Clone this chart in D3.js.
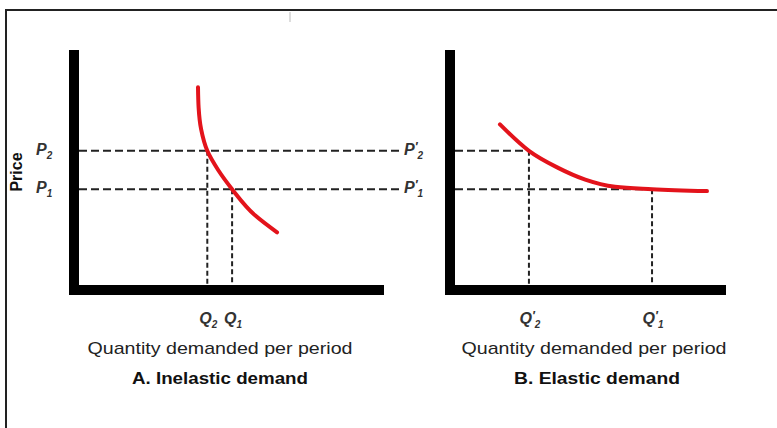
<!DOCTYPE html>
<html>
<head>
<meta charset="utf-8">
<script src="https://cdn.jsdelivr.net/npm/d3@7"></script>
<style>
  html, body { margin: 0; padding: 0; background: #fff; }
  svg { display: block; }
  text { font-family: "Liberation Sans", Arial, sans-serif; }
</style>
</head>
<body>
<svg id="chart" width="777" height="428"></svg>
<script>
// ---------- data ----------
const panelTitles = ["A. Inelastic demand", "B. Elastic demand"];
const xAxisLabel = "Quantity demanded per period";
const yAxisLabel = "Price";

// Panel A (inelastic): price levels and quantities
const inelasticPrices = [5.8, 4.2];          // P2, P1
const inelasticQuantities = [4.3, 5.1];      // Q2, Q1
const inelasticCurveQ = [4.0, 4.02, 4.1, 4.3, 4.65, 5.1, 5.85, 6.55];
const inelasticCurveP = [8.45, 7.6, 6.7, 5.8, 5.0, 4.2, 3.1, 2.4];

// Panel B (elastic)
const elasticPrices = [5.8, 4.2];            // P'2, P'1
const elasticQuantities = [2.86, 7.32];      // Q'2, Q'1
const elasticCurveQ = [1.81, 2.86, 3.9, 4.9, 5.98, 7.32, 9.31];
const elasticCurveP = [6.9, 5.8, 5.1, 4.6, 4.3, 4.2, 4.12];

const priceTickLabels = ["P", "P"];          // with subscripts 2, 1
const priceSubs = ["2", "1"];
const qSubs = ["2", "1"];

// ---------- drawing ----------
const svg = d3.select("#chart");
const red = "#e3131b";

// frame
svg.append("line").attr("x1", 5).attr("x2", 777).attr("y1", 10).attr("y2", 10)
  .attr("stroke", "#222").attr("stroke-width", 2);
svg.append("line").attr("x1", 6).attr("x2", 6).attr("y1", 10).attr("y2", 428)
  .attr("stroke", "#222").attr("stroke-width", 2);
svg.append("line").attr("x1", 290).attr("x2", 290).attr("y1", 12).attr("y2", 22)
  .attr("stroke", "#bbb").attr("stroke-width", 1);

const y = d3.scaleLinear().domain([0, 10]).range([290, 50]);
const xA = d3.scaleLinear().domain([0, 10]).range([74, 384]);
const xB = d3.scaleLinear().domain([0, 10]).range([450, 726]);

function axes(x) {
  const x0 = x(0);
  svg.append("line").attr("x1", x0).attr("x2", x0).attr("y1", y(10)).attr("y2", y(0) + 5)
    .attr("stroke", "#000").attr("stroke-width", 10);
  svg.append("line").attr("x1", x0 - 5).attr("x2", x(10)).attr("y1", y(0)).attr("y2", y(0))
    .attr("stroke", "#000").attr("stroke-width", 10);
}
axes(xA);
axes(xB);

const hDash = "8,4", vDash = "5,3";

// Panel A guide lines
inelasticPrices.forEach((p, i) => {
  svg.append("line").attr("x1", xA(0) + 5).attr("x2", 400)
    .attr("y1", y(p)).attr("y2", y(p))
    .attr("stroke", "#222").attr("stroke-width", 2).attr("stroke-dasharray", hDash);
  svg.append("line").attr("x1", xA(inelasticQuantities[i])).attr("x2", xA(inelasticQuantities[i]))
    .attr("y1", y(p)).attr("y2", y(0) - 5)
    .attr("stroke", "#222").attr("stroke-width", 2).attr("stroke-dasharray", vDash);
});
// Panel B guide lines
elasticPrices.forEach((p, i) => {
  svg.append("line").attr("x1", xB(0) + 5).attr("x2", xB(elasticQuantities[i]))
    .attr("y1", y(p)).attr("y2", y(p))
    .attr("stroke", "#222").attr("stroke-width", 2).attr("stroke-dasharray", hDash);
  svg.append("line").attr("x1", xB(elasticQuantities[i])).attr("x2", xB(elasticQuantities[i]))
    .attr("y1", y(p)).attr("y2", y(0) - 5)
    .attr("stroke", "#222").attr("stroke-width", 2).attr("stroke-dasharray", vDash);
});

// curves
const lineA = d3.line().x(d => xA(d[0])).y(d => y(d[1])).curve(d3.curveMonotoneY);
const lineB = d3.line().x(d => xB(d[0])).y(d => y(d[1])).curve(d3.curveMonotoneX);
svg.append("path").datum(d3.zip(inelasticCurveQ, inelasticCurveP)).attr("d", lineA)
  .attr("fill", "none").attr("stroke", red).attr("stroke-width", 4).attr("stroke-linecap", "round");
svg.append("path").datum(d3.zip(elasticCurveQ, elasticCurveP)).attr("d", lineB)
  .attr("fill", "none").attr("stroke", red).attr("stroke-width", 4).attr("stroke-linecap", "round");

// labels helper
function symLabel(xp, yp, letter, prime, sub, anchor) {
  const t = svg.append("text").attr("x", xp).attr("y", yp).attr("text-anchor", anchor || "start")
    .attr("font-size", 16).attr("font-style", "italic").attr("font-weight", "bold").attr("fill", "#333")
    .attr("dominant-baseline", "middle");
  t.append("tspan").text(letter);
  if (prime) t.append("tspan").attr("font-size", 12).attr("dy", -3).text("′");
  t.append("tspan").attr("font-size", 10).attr("dy", prime ? 8 : 5).text(sub);
  return t;
}

// Panel A price labels (left of axis)
inelasticPrices.forEach((p, i) => symLabel(36, y(p), priceTickLabels[i], false, priceSubs[i]));
// Panel B price labels (between panels)
elasticPrices.forEach((p, i) => symLabel(404, y(p), priceTickLabels[i], true, priceSubs[i]));

// Quantity labels
inelasticQuantities.forEach((q, i) => symLabel(xA(q) + 1, 320, "Q", false, qSubs[i], "middle"));
elasticQuantities.forEach((q, i) => symLabel(xB(q) + 1, 320, "Q", true, qSubs[i], "middle"));

// axis titles
[220, 594].forEach(cx => {
  svg.append("text").attr("x", cx).attr("y", 354).attr("text-anchor", "middle")
    .attr("font-size", 17).attr("fill", "#222")
    .attr("textLength", 265).attr("lengthAdjust", "spacingAndGlyphs")
    .text(xAxisLabel);
});
svg.append("text").attr("x", 220).attr("y", 384).attr("text-anchor", "middle")
  .attr("font-size", 17).attr("font-weight", "bold").attr("fill", "#111")
  .attr("textLength", 176).attr("lengthAdjust", "spacingAndGlyphs").text(panelTitles[0]);
svg.append("text").attr("x", 597).attr("y", 384).attr("text-anchor", "middle")
  .attr("font-size", 17).attr("font-weight", "bold").attr("fill", "#111")
  .attr("textLength", 166).attr("lengthAdjust", "spacingAndGlyphs").text(panelTitles[1]);

svg.append("text").attr("transform", "translate(22,172) rotate(-90)")
  .attr("text-anchor", "middle").attr("font-size", 16).attr("font-weight", "bold").attr("fill", "#111")
  .text(yAxisLabel);
</script>
</body>
</html>
